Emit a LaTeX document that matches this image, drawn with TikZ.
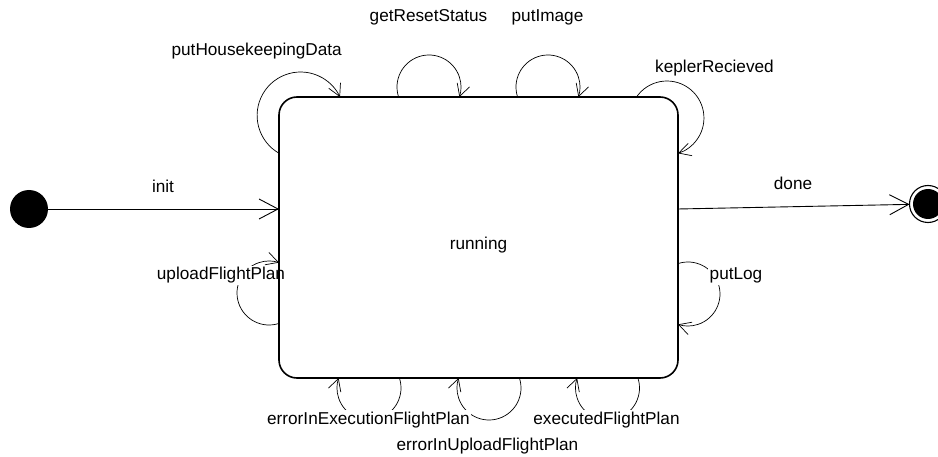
\documentclass[tikz,border=0pt]{standalone}
\usepackage{fontspec}
\setmainfont{Liberation Sans}
\usetikzlibrary{arrows.meta}
\pgfdeclarelayer{back}
\pgfsetlayers{back,main}

\begin{document}
\begin{tikzpicture}[x=1pt,y=1pt,
  font=\fontsize{17.2}{20}\selectfont,
  statebox/.style={draw, line width=1.6pt, rounded corners=18pt,
    minimum width=399pt, minimum height=281pt, inner sep=0pt, outer sep=0pt},
  startdot/.style={circle, fill=black, minimum size=38pt, inner sep=0pt, outer sep=0pt},
  enddot/.style={circle, draw, fill=white, line width=1.1pt, minimum size=37pt,
    inner sep=0pt, outer sep=0pt,
    path picture={\fill[black] (path picture bounding box.center) circle[radius=15pt];}},
  trans/.style={line width=0.9pt, -{Straight Barb[length=19pt,width=20pt]}},
  selfloop/.style={line width=0.7pt, -{Straight Barb[length=12pt,width=13pt]}},
  lbl/.style={fill=white, inner sep=1.5pt, anchor=base},
]
\useasboundingbox (0,0) rectangle (938,456);

% the composite state and the pseudo states
\node[statebox, label={[anchor=base, yshift=-8pt]center:running}] (running) at (478.5,218.5) {};
\node[startdot] (init) at (29,247) {};
\node[enddot] (final) at (928,252) {};

% where each self transition leaves the state border
\coordinate (s-house)  at ([yshift=-56.25pt]running.north west);
\coordinate (s-reset)  at ([xshift=119.6pt]running.north west);
\coordinate (s-image)  at ([xshift=238.6pt]running.north west);
\coordinate (s-kepler) at ([xshift=-41.5pt]running.north east);
\coordinate (s-log)    at ([yshift=-26.1pt]running.east);
\coordinate (s-upload) at ([yshift=-85.9pt]running.west);
\coordinate (s-exec)   at ([xshift=120.4pt]running.south west);
\coordinate (s-uperr)  at ([xshift=240.4pt]running.south west);
\coordinate (s-done)   at ([xshift=358.9pt]running.south west);

\begin{pgfonlayer}{back}
  % entry and exit transitions
  \draw[trans] (init) -- (init -| running.west);
  \draw[trans] (running.east |- init) -- (final);

  % self transitions
  \draw[selfloop] (s-house)  arc[start angle=240.2, end angle=25.1,   radius=43.5];
  \draw[selfloop] (s-reset)  arc[start angle=198.2, end angle=-18.2,  radius=32];
  \draw[selfloop] (s-image)  arc[start angle=198.2, end angle=-18.2,  radius=32];
  \draw[selfloop] (s-kepler) arc[start angle=145.4, end angle=-72.6,  radius=37];
  \draw[selfloop] (s-log)    arc[start angle=108.2, end angle=-108.2, radius=32];
  \draw[selfloop] (s-upload) arc[start angle=-71.8, end angle=-288.2, radius=32];
  \draw[selfloop] (s-exec)   arc[start angle=18.2,  end angle=-198.2, radius=32];
  \draw[selfloop] (s-uperr)  arc[start angle=18.2,  end angle=-198.2, radius=32];
  \draw[selfloop] (s-done)   arc[start angle=18.2,  end angle=-198.2, radius=32];

  % transition labels
  \node[lbl] (l-init)   at (163,263.7)   {init};
  \node[lbl] (l-done)   at (793,266.5)   {done};
  \node[lbl] (l-house)  at (256.7,400.3) {putHousekeepingData};
  \node[lbl] (l-reset)  at (428.5,434.3) {getResetStatus};
  \node[lbl] (l-image)  at (547.5,434.3) {putImage};
  \node[lbl] (l-kepler) at (714.5,383)   {keplerRecieved};
  \node[lbl] (l-upload) at (221,176)     {uploadFlightPlan};
  \node[lbl] (l-log)    at (736,176)     {putLog};
  \node[lbl] (l-exec)   at (368.5,32)    {errorInExecutionFlightPlan};
  \node[lbl] (l-done2)  at (606.5,32)    {executedFlightPlan};
  \node[lbl] (l-uperr)  at (487.5,6)     {errorInUploadFlightPlan};
\end{pgfonlayer}
\end{tikzpicture}
\end{document}
